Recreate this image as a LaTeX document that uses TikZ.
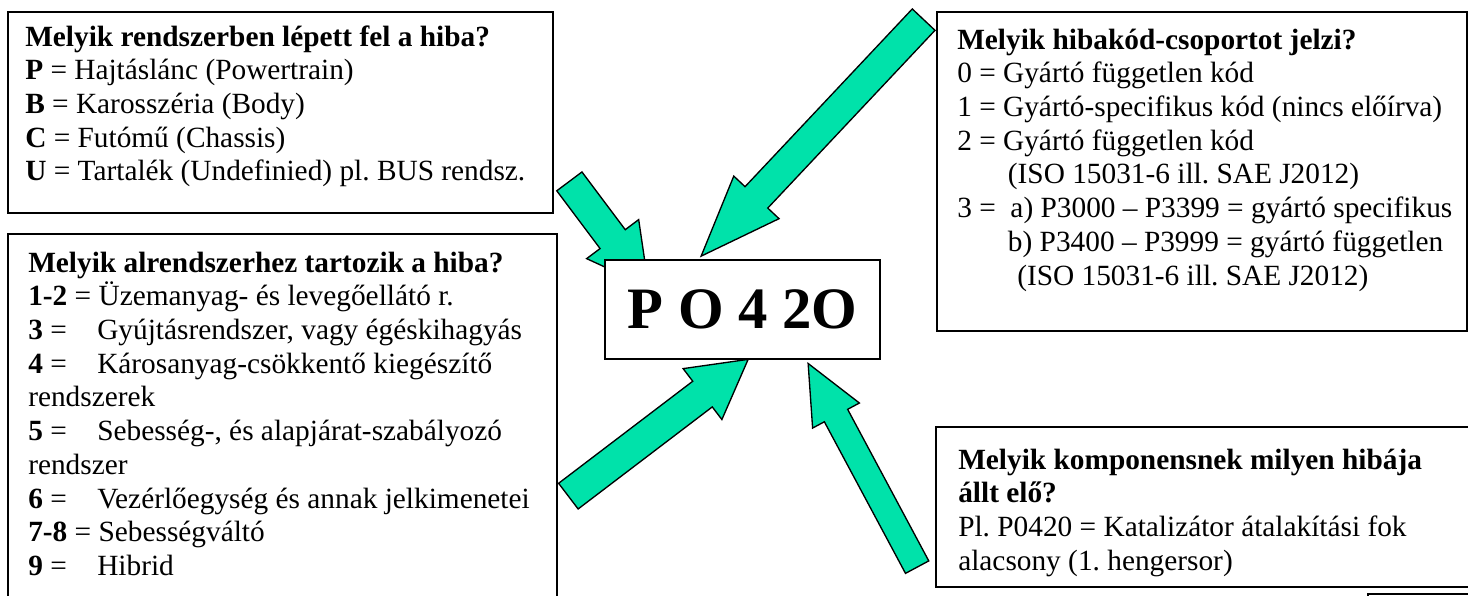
\documentclass[tikz,border=0pt]{standalone}
\usepackage{fontspec}
\setmainfont{Liberation Serif}
\usetikzlibrary{calc,fit}
\pgfdeclarelayer{back}
\pgfsetlayers{back,main}
\definecolor{arrowgreen}{RGB}{0,226,170}
\frenchspacing
\newcommand\Lrow[1]{\hbox{#1}}
\newcommand\tabA[1]{\makebox[51.75pt][l]{#1}}
% #1 tail, #2 tip, #3 half shaft width, #4 half head width, #5 head length
\newcommand\blockarr[5]{%
  \coordinate (hb) at ($(#2)!#5!(#1)$);
  \draw[barrow] ($(#1)!#3!90:(#2)$) -- ($(hb)!#3!-90:(#1)$) -- ($(hb)!#4!-90:(#1)$)
    -- (#2) -- ($(hb)!#4!90:(#1)$) -- ($(hb)!#3!90:(#1)$) -- ($(#1)!#3!-90:(#2)$) -- cycle;
}
\begin{document}
\begin{tikzpicture}[x=0.75pt,y=-0.75pt,
  box/.style={draw=black, line width=1.3pt, fill=white, inner sep=0pt},
  txt/.style={inner sep=0pt, anchor=base west, font=\fontsize{22}{25.3}\selectfont},
  codetxt/.style={inner sep=0pt, font=\fontsize{44}{50}\selectfont\bfseries},
  barrow/.style={draw=black, line width=1pt, fill=arrowgreen, line join=miter}]
\useasboundingbox (0,0) rectangle (1468,596);

% boxes
\node[box, fit={(8,12)(553,213)}] (box1) {};
\node[box, fit={(8,234)(557,650)}] (box2) {};
\node[box, fit={(937,12)(1467,331)}] (box3) {};
\node[box, fit={(936,427)(1520,587)}] (box4) {};
\node[box, fit={(1368,594)(1520,660)}] (box5) {};
\node[box, fit={(605,260)(880,359)}] (code) {};
\node[codetxt] (codetext) at (code.center) {P O 4 2O};

% texts
\node[txt] (t1) at (25,46) {\vtop{%
  \Lrow{\textbf{Melyik rendszerben lépett fel a hiba?}}
  \Lrow{\textbf{P} = Hajtáslánc (Powertrain)}
  \Lrow{\textbf{B} = Karosszéria (Body)}
  \Lrow{\textbf{C} = Futómű (Chassis)}
  \Lrow{\textbf{U} = Tartalék (Undefinied) pl. BUS rendsz.}}};

\node[txt] (t2) at (28,272) {\vtop{%
  \Lrow{\textbf{Melyik alrendszerhez tartozik a hiba?}}
  \Lrow{\textbf{1-2} = Üzemanyag- és levegőellátó r.}
  \Lrow{\tabA{\textbf{3} =}Gyújtásrendszer, vagy égéskihagyás}
  \Lrow{\tabA{\textbf{4} =}Károsanyag-csökkentő kiegészítő}
  \Lrow{rendszerek}
  \Lrow{\tabA{\textbf{5} =}Sebesség-, és alapjárat-szabályozó}
  \Lrow{rendszer}
  \Lrow{\tabA{\textbf{6} =}Vezérlőegység és annak jelkimenetei}
  \Lrow{\textbf{7-8} = Sebességváltó}
  \Lrow{\tabA{\textbf{9} =}Hibrid}}};

\node[txt] (t3) at (957,49) {\vtop{%
  \Lrow{\textbf{Melyik hibakód-csoportot jelzi?}}
  \Lrow{0 = Gyártó független kód}
  \Lrow{1 = Gyártó-specifikus kód (nincs előírva)}
  \Lrow{2 = Gyártó független kód}
  \Lrow{\kern38pt(ISO 15031-6 ill. SAE J2012)}
  \Lrow{3 = \ a) P3000 – P3399 = gyártó specifikus}
  \Lrow{\kern38pt b) P3400 – P3999 = gyártó független}
  \Lrow{\kern45pt(ISO 15031-6 ill. SAE J2012)}}};

\node[txt] (t4) at (958,469) {\vtop{%
  \Lrow{\textbf{Melyik komponensnek milyen hibája}}
  \Lrow{\textbf{állt elő?}}
  \Lrow{Pl. P0420 = Katalizátor átalakítási fok}
  \Lrow{alacsony (1. hengersor)}}};

% connector end points
\coordinate (a1s) at ($(box1.south east)+(15.5,-32.5)$);
\coordinate (a1e) at ($(code.north west)+(44.5,28)$);
\coordinate (a2s) at ($(box3.north west)+(-12.5,8.5)$);
\coordinate (a2e) at ($(code.north west)+(97,-3)$);
\coordinate (a3s) at ($(box2.north east)+(10.5,263)$);
\coordinate (a3e) at ($(code.south west)+(144,-0.5)$);
\coordinate (a4s) at ($(box4.north west)+(-18,141)$);
\coordinate (a4e) at ($(code.south west)+(204,3.6)$);

\begin{pgfonlayer}{back}
  \fill[white] (0,0) rectangle (1468,596);
  \blockarr{a1s}{a1e}{11.8pt}{24.4pt}{45pt}
  \blockarr{a2s}{a2e}{11.7pt}{23.3pt}{60.5pt}
  \blockarr{a3s}{a3e}{12.1pt}{24pt}{43pt}
  \blockarr{a4s}{a4e}{9.9pt}{19.9pt}{44.3pt}
\end{pgfonlayer}
\end{tikzpicture}
\end{document}
